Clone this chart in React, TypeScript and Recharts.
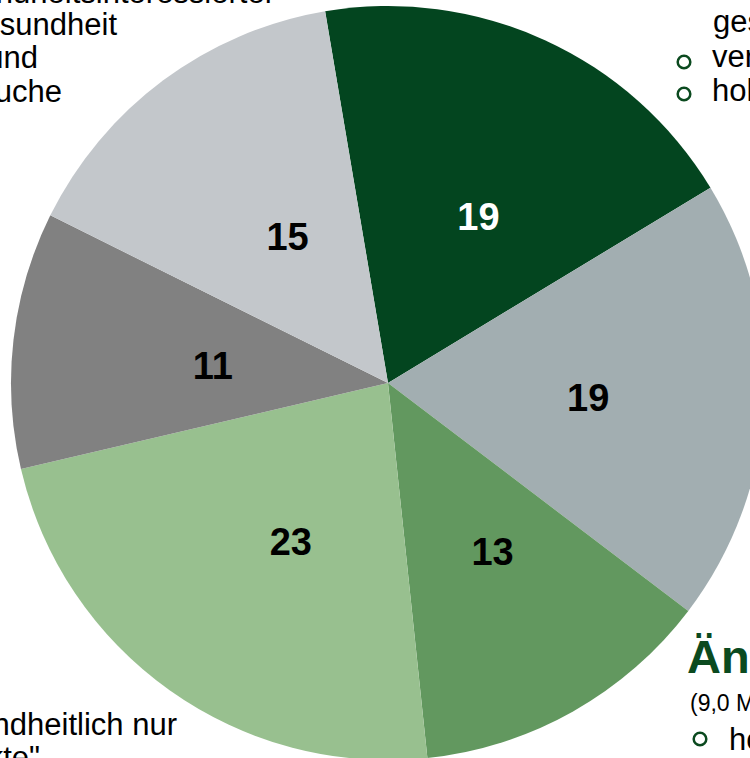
import React from 'react';
import { PieChart, Pie, Cell } from 'recharts';

const segments = ['Segment A', 'Segment B', 'Segment C', 'Segment D', 'Segment E', 'Segment F'];
const shares = [19, 19, 13, 23, 11, 15];
const sliceColors = ['#03451f', '#a2aeb1', '#62985f', '#98c08f', '#818181', '#c3c7cb'];
const labelColors = ['#ffffff', '#000000', '#000000', '#000000', '#000000', '#000000'];

const data = segments.map((name, i) => ({ name, value: shares[i] }));

const RADIAN = Math.PI / 180;
const FONT = '"Liberation Sans", Arial, sans-serif';
const GREEN = '#0b4a1f';

const renderLabel = (props: any) => {
  const { cx, cy, midAngle, outerRadius, index, value } = props;
  const r = outerRadius * 0.5;
  const x = cx + r * Math.cos(-midAngle * RADIAN);
  const y = cy + r * Math.sin(-midAngle * RADIAN);
  return (
    <text
      x={x + 12}
      y={y + 5}
      fill={labelColors[index]}
      textAnchor="middle"
      dominantBaseline="central"
      fontFamily={FONT}
      fontWeight="bold"
      fontSize={38}
    >
      {value}
    </text>
  );
};

const Bullet = ({ x, y }: { x: number; y: number }) => (
  <circle cx={x} cy={y} r={6.3} fill="none" stroke={GREEN} strokeWidth={2.5} />
);

const App: React.FC = () => {
  return (
    <div style={{ position: 'absolute', left: 0, top: 0, width: 750, height: 758, overflow: 'hidden', background: '#fff' }}>
      <PieChart width={750} height={758} margin={{ top: 0, right: 0, bottom: 0, left: 0 }}>
        <Pie
          data={data}
          dataKey="value"
          cx={388}
          cy={383}
          innerRadius={0}
          outerRadius={377}
          startAngle={99.6}
          endAngle={-260.4}
          stroke="none"
          label={renderLabel}
          labelLine={false}
          isAnimationActive={false}
        >
          {data.map((entry, index) => (
            <Cell key={`cell-${index}`} fill={sliceColors[index]} />
          ))}
        </Pie>
      </PieChart>
      <svg
        width={750}
        height={758}
        style={{ position: 'absolute', left: 0, top: 0, pointerEvents: 'none' }}
        fontFamily={FONT}
      >
        <g fontSize={31} fill="#000" textAnchor="end">
          <text x={275} y={3}>Gesundheitsinteressierter</text>
          <text x={117} y={35}>Gesundheit</text>
          <text x={38} y={68}>und</text>
          <text x={62} y={102}>Genuss-Suche</text>
          <text x={177} y={735}>gesundheitlich nur</text>
          <text x={40} y={768}>„Produkte"</text>
        </g>
        <g fontSize={31} fill="#000">
          <text x={713} y={32}>gesund</text>
          <Bullet x={684} y={62} />
          <text x={712} y={67}>vernünftig</text>
          <Bullet x={684} y={94} />
          <text x={712} y={101}>hohe</text>
        </g>
        <text x={687} y={673} fontSize={47} fontWeight="bold" fill={GREEN}>Änderer</text>
        <text x={690} y={711} fontSize={23} fill="#000">(9,0 Mio.)</text>
        <Bullet x={700} y={739} />
        <text x={729} y={750} fontSize={31} fill="#000">hohe</text>
      </svg>
    </div>
  );
};

export default App;
